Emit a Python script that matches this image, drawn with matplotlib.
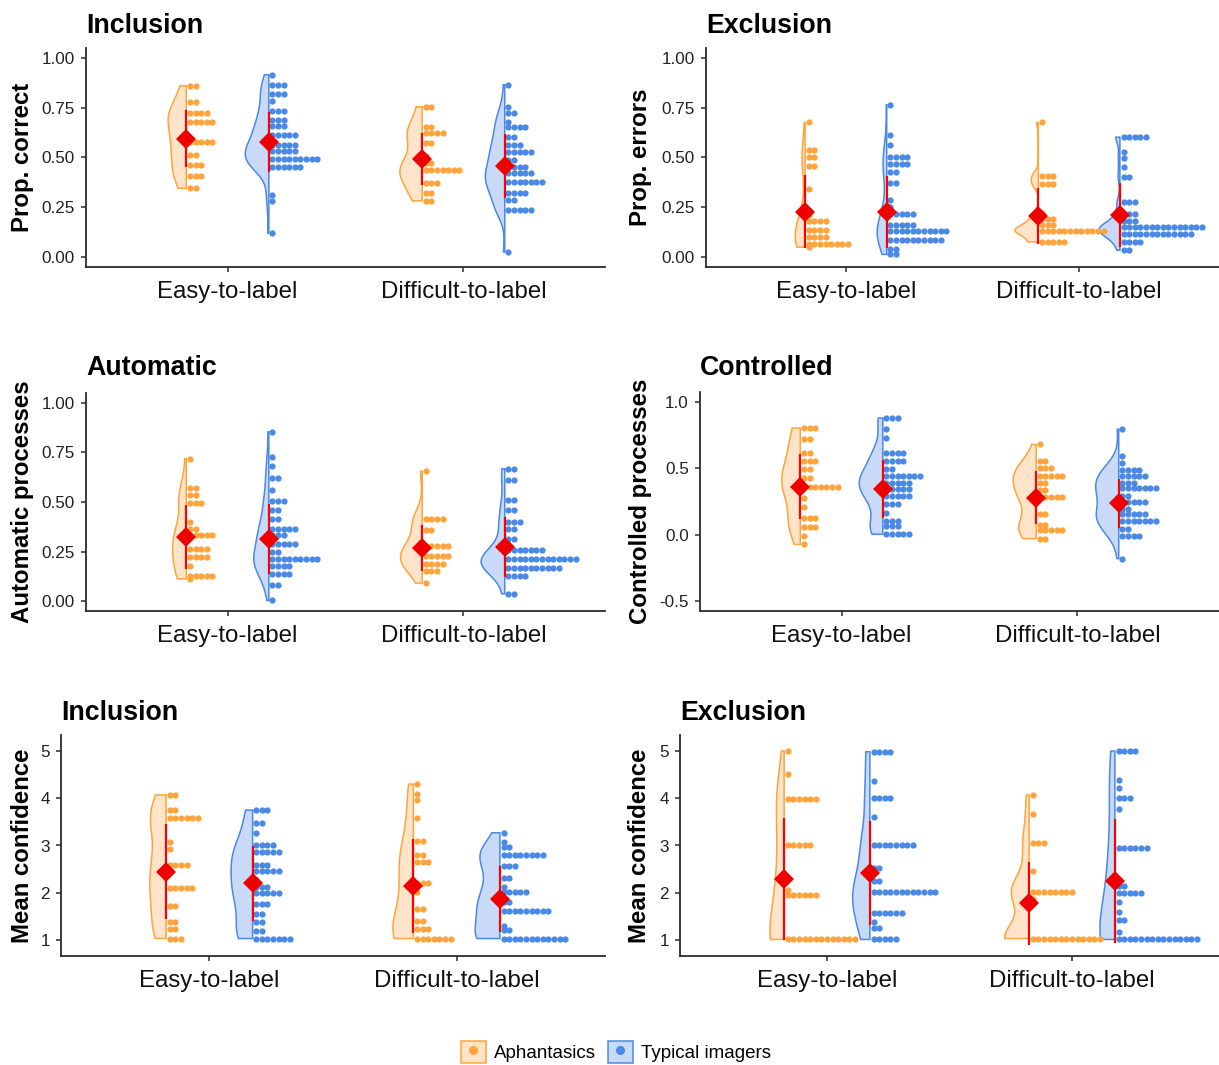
import numpy as np
import matplotlib
matplotlib.use("Agg")
import matplotlib.pyplot as plt
from matplotlib.patches import Polygon, Patch
from matplotlib.lines import Line2D

plt.rcParams['font.family'] = ['Liberation Sans', 'DejaVu Sans']

# ---------------- data ----------------
CATEGORIES = ['Easy-to-label', 'Difficult-to-label']
GROUPS = ['Aphantasics', 'Typical imagers']

# dot stacks: (value, number of dots)
# Panel 1: Inclusion - Prop. correct
INCL_ACC_APH_EASY = [(0.860, 2), (0.781, 2), (0.725, 4), (0.677, 5), (0.578, 5), (0.515, 2),
                     (0.460, 3), (0.409, 3), (0.345, 2)]
INCL_ACC_TYP_EASY = [(0.916, 1), (0.866, 3), (0.819, 3), (0.782, 1), (0.732, 3), (0.690, 3),
                     (0.656, 3), (0.615, 5), (0.564, 5), (0.534, 5), (0.494, 9), (0.452, 6),
                     (0.313, 1), (0.279, 1), (0.120, 1)]
INCL_ACC_APH_DIFF = [(0.755, 2), (0.655, 2), (0.625, 4), (0.575, 2), (0.510, 1), (0.471, 2),
                     (0.437, 7), (0.370, 3), (0.323, 2), (0.282, 2)]
INCL_ACC_TYP_DIFF = [(0.866, 1), (0.756, 1), (0.726, 2), (0.680, 1), (0.655, 4), (0.605, 2),
                     (0.563, 3), (0.529, 5), (0.487, 2), (0.454, 4), (0.420, 5), (0.375, 7),
                     (0.324, 4), (0.286, 2), (0.235, 5), (0.025, 1)]
INCL_ACC_MEAN = [0.595, 0.577, 0.491, 0.459]
INCL_ACC_SD = [0.145, 0.151, 0.130, 0.160]

# Panel 2: Exclusion - Prop. errors
EXCL_ERR_APH_EASY = [(0.676, 1), (0.538, 2), (0.504, 2), (0.459, 2), (0.340, 1), (0.210, 1),
                     (0.182, 4), (0.138, 4), (0.100, 4), (0.067, 8), (0.050, 1)]
EXCL_ERR_TYP_EASY = [(0.765, 1), (0.613, 1), (0.563, 1), (0.504, 4), (0.467, 4), (0.429, 2),
                     (0.373, 2), (0.286, 1), (0.250, 1), (0.218, 5), (0.160, 5), (0.131, 11),
                     (0.087, 10), (0.042, 2), (0.013, 2)]
EXCL_ERR_APH_DIFF = [(0.676, 1), (0.408, 3), (0.366, 3), (0.220, 1), (0.193, 3), (0.160, 3),
                     (0.131, 12), (0.076, 5)]
EXCL_ERR_TYP_DIFF = [(0.602, 5), (0.529, 1), (0.496, 1), (0.454, 1), (0.400, 2), (0.277, 3),
                     (0.218, 3), (0.182, 3), (0.151, 15), (0.118, 13), (0.076, 4), (0.034, 2)]
EXCL_ERR_MEAN = [0.227, 0.227, 0.205, 0.210]
EXCL_ERR_SD = [0.183, 0.180, 0.140, 0.160]

# Panel 3: Automatic processes
AUTO_APH_EASY = [(0.719, 1), (0.572, 2), (0.534, 2), (0.497, 3), (0.400, 1), (0.365, 2),
                 (0.332, 5), (0.261, 4), (0.222, 4), (0.175, 1), (0.126, 5), (0.112, 1)]
AUTO_TYP_EASY = [(0.854, 1), (0.727, 1), (0.680, 1), (0.621, 2), (0.562, 1), (0.505, 3),
                 (0.461, 2), (0.416, 2), (0.365, 5), (0.332, 3), (0.290, 5), (0.247, 2),
                 (0.210, 9), (0.175, 4), (0.135, 4), (0.079, 2), (0.003, 1)]
AUTO_APH_DIFF = [(0.655, 1), (0.416, 4), (0.357, 2), (0.276, 5), (0.227, 5), (0.189, 4),
                 (0.150, 3), (0.091, 1)]
AUTO_TYP_DIFF = [(0.668, 2), (0.609, 2), (0.508, 2), (0.458, 2), (0.399, 3), (0.365, 2),
                 (0.315, 2), (0.256, 7), (0.210, 13), (0.168, 10), (0.125, 4), (0.037, 2)]
AUTO_MEAN = [0.323, 0.315, 0.269, 0.273]
AUTO_SD = [0.160, 0.177, 0.116, 0.151]

# Panel 4: Controlled processes
CTRL_APH_EASY = [(0.803, 3), (0.720, 2), (0.614, 2), (0.556, 3), (0.495, 2), (0.430, 2),
                 (0.361, 7), (0.273, 1), (0.210, 1), (0.129, 3), (0.058, 3), (-0.010, 1),
                 (-0.073, 1)]
CTRL_TYP_EASY = [(0.879, 3), (0.795, 1), (0.727, 1), (0.619, 4), (0.556, 4), (0.492, 2),
                 (0.442, 7), (0.391, 5), (0.343, 5), (0.293, 5), (0.230, 3), (0.164, 1),
                 (0.104, 3), (0.063, 3), (0.003, 5)]
CTRL_APH_DIFF = [(0.680, 1), (0.555, 2), (0.500, 3), (0.444, 5), (0.386, 2), (0.336, 2),
                 (0.285, 5), (0.154, 2), (0.076, 2), (0.033, 5), (-0.030, 2)]
CTRL_TYP_DIFF = [(0.795, 1), (0.593, 1), (0.537, 1), (0.487, 4), (0.444, 5), (0.386, 3),
                 (0.348, 7), (0.290, 2), (0.247, 5), (0.197, 2), (0.154, 5), (0.103, 7),
                 (0.045, 2), (-0.013, 4), (-0.180, 1)]
CTRL_MEAN = [0.361, 0.343, 0.280, 0.235]
CTRL_SD = [0.245, 0.220, 0.200, 0.187]

# Panel 5: Inclusion - Mean confidence
INCL_CONF_APH_EASY = [(4.07, 2), (3.75, 2), (3.575, 6), (3.08, 1), (2.92, 1), (2.59, 4),
                      (2.45, 1), (2.09, 5), (1.72, 2), (1.37, 2), (1.23, 2), (1.03, 3)]
INCL_CONF_TYP_EASY = [(3.75, 3), (3.48, 2), (3.27, 1), (3.01, 4), (2.855, 5), (2.59, 3),
                      (2.45, 5), (2.27, 1), (2.13, 3), (1.99, 5), (1.755, 3), (1.56, 2),
                      (1.37, 2), (1.20, 2), (1.03, 7)]
INCL_CONF_APH_DIFF = [(4.30, 1), (4.10, 1), (3.96, 1), (3.575, 1), (3.10, 2), (2.80, 2),
                      (2.66, 3), (2.21, 3), (2.02, 1), (1.65, 2), (1.40, 2), (1.226, 3),
                      (1.03, 7)]
INCL_CONF_TYP_DIFF = [(3.27, 1), (3.08, 1), (2.96, 2), (2.80, 8), (2.57, 3), (2.305, 2),
                      (2.13, 1), (2.02, 5), (1.81, 2), (1.61, 9), (1.30, 1), (1.21, 2),
                      (1.03, 12)]
INCL_CONF_MEAN = [2.446, 2.200, 2.140, 1.870]
INCL_CONF_SD = [1.00, 0.79, 1.00, 0.70]

# Panel 6: Exclusion - Mean confidence
EXCL_CONF_APH_EASY = [(5.00, 1), (4.51, 1), (3.985, 6), (3.01, 5), (2.06, 1), (1.95, 6),
                      (1.01, 13)]
EXCL_CONF_TYP_EASY = [(4.985, 4), (4.37, 1), (4.01, 4), (3.61, 1), (3.01, 8), (2.52, 2),
                      (2.25, 2), (2.02, 12), (1.58, 6), (1.39, 1), (1.25, 2), (1.01, 5)]
EXCL_CONF_APH_DIFF = [(4.07, 1), (3.66, 1), (3.045, 3), (2.45, 1), (2.02, 8), (1.86, 1),
                      (1.03, 13)]
EXCL_CONF_TYP_DIFF = [(5.00, 4), (4.385, 1), (4.22, 1), (4.01, 3), (3.77, 1), (2.94, 6),
                      (2.14, 2), (1.99, 5), (1.81, 1), (1.60, 1), (1.42, 2), (1.16, 1),
                      (1.01, 15)]
EXCL_CONF_MEAN = [2.29, 2.425, 1.78, 2.25]
EXCL_CONF_SD = [1.30, 1.10, 0.88, 1.32]

# ---------------- styling / layout ----------------
ORANGE, ORANGE_FILL = '#FFA43C', '#FFE4CA'
BLUE, BLUE_FILL = '#4A89E6', '#C9D9F8'
COLORS = [(ORANGE, ORANGE_FILL), (BLUE, BLUE_FILL)]
W, H, DPI = 1219, 1065, 100
DODGE = 0.175
VIOLIN_HALF = 0.10
DOT_SP_PX = 5.6

panels = [
    dict(box=(86, 605, 48, 267), ylim=(-0.05, 1.05), yticks=[0, 0.25, 0.5, 0.75, 1.0], fmt='{:.2f}',
         title='Inclusion', tbase=33, ylabel='Prop. correct', ylx=23,
         stacks=[INCL_ACC_APH_EASY, INCL_ACC_TYP_EASY, INCL_ACC_APH_DIFF, INCL_ACC_TYP_DIFF],
         mean=INCL_ACC_MEAN, sd=INCL_ACC_SD),
    dict(box=(706, 1219, 48, 267), ylim=(-0.05, 1.05), yticks=[0, 0.25, 0.5, 0.75, 1.0], fmt='{:.2f}',
         title='Exclusion', tbase=33, ylabel='Prop. errors', ylx=640,
         stacks=[EXCL_ERR_APH_EASY, EXCL_ERR_TYP_EASY, EXCL_ERR_APH_DIFF, EXCL_ERR_TYP_DIFF],
         mean=EXCL_ERR_MEAN, sd=EXCL_ERR_SD),
    dict(box=(86, 605, 393, 611), ylim=(-0.05, 1.05), yticks=[0, 0.25, 0.5, 0.75, 1.0], fmt='{:.2f}',
         title='Automatic', tbase=375, ylabel='Automatic processes', ylx=23,
         stacks=[AUTO_APH_EASY, AUTO_TYP_EASY, AUTO_APH_DIFF, AUTO_TYP_DIFF],
         mean=AUTO_MEAN, sd=AUTO_SD),
    dict(box=(700, 1219, 392, 611), ylim=(-0.575, 1.075), yticks=[-0.5, 0.0, 0.5, 1.0], fmt='{:.1f}',
         title='Controlled', tbase=375, ylabel='Controlled processes', ylx=640,
         stacks=[CTRL_APH_EASY, CTRL_TYP_EASY, CTRL_APH_DIFF, CTRL_TYP_DIFF],
         mean=CTRL_MEAN, sd=CTRL_SD),
    dict(box=(61, 605, 735, 956), ylim=(0.66, 5.34), yticks=[1, 2, 3, 4, 5], fmt='{:.0f}',
         title='Inclusion', tbase=720, ylabel='Mean confidence', ylx=23,
         stacks=[INCL_CONF_APH_EASY, INCL_CONF_TYP_EASY, INCL_CONF_APH_DIFF, INCL_CONF_TYP_DIFF],
         mean=INCL_CONF_MEAN, sd=INCL_CONF_SD),
    dict(box=(680, 1219, 735, 956), ylim=(0.66, 5.34), yticks=[1, 2, 3, 4, 5], fmt='{:.0f}',
         title='Exclusion', tbase=720, ylabel='Mean confidence', ylx=640,
         stacks=[EXCL_CONF_APH_EASY, EXCL_CONF_TYP_EASY, EXCL_CONF_APH_DIFF, EXCL_CONF_TYP_DIFF],
         mean=EXCL_CONF_MEAN, sd=EXCL_CONF_SD),
]


def kde(vals, grid):
    v = np.asarray(vals, dtype=float)
    n = len(v)
    sd = v.std(ddof=1)
    q75, q25 = np.percentile(v, [75, 25])
    iqr = (q75 - q25) / 1.34
    lo = min(sd, iqr) if iqr > 0 else sd
    bw = 0.9 * lo * n ** (-0.2)
    z = (grid[:, None] - v[None, :]) / bw
    return np.exp(-0.5 * z ** 2).sum(axis=1) / (n * bw * np.sqrt(2 * np.pi))


fig = plt.figure(figsize=(W / DPI, H / DPI), dpi=DPI)
AXC = '#2b2b2b'

for p in panels:
    L, R, T, B = p['box']
    ax = fig.add_axes([L / W, 1 - B / H, (R - L) / W, (B - T) / H])
    ax.set_xlim(0.4, 2.6)
    ax.set_ylim(*p['ylim'])
    px_per_x = (R - L) / 2.2
    sp = DOT_SP_PX / px_per_x

    grids, dens = [], []
    for st in p['stacks']:
        ys = np.array([s[0] for s in st])
        ns = np.array([s[1] for s in st])
        v = np.repeat(ys, ns)
        g = np.linspace(v.min(), v.max(), 512)
        grids.append(g)
        dens.append(kde(v, g))
    maxd = max(d.max() for d in dens)

    for i, st in enumerate(p['stacks']):
        cat, grp = i // 2, i % 2
        col, fill = COLORS[grp]
        xc = cat + 1 + (DODGE if grp else -DODGE)
        g, d = grids[i], dens[i]
        half = d / maxd * VIOLIN_HALF
        xs_poly = np.r_[xc, xc - half, xc]
        ys_poly = np.r_[g[0], g, g[-1]]
        ax.add_patch(Polygon(np.column_stack([xs_poly, ys_poly]), closed=True,
                             fc=fill, ec=col, lw=1.1, zorder=2))
        dx, dy = [], []
        for y, n in st:
            for k in range(n):
                dx.append(xc + sp * (0.65 + k))
                dy.append(y)
        ax.plot(dx, dy, 'o', ls='none', ms=4.5, color=col, mew=0, zorder=3)
        m, s = p['mean'][i], p['sd'][i]
        ax.plot([xc, xc], [m - s, m + s], color='#FF0000', lw=1.6, zorder=4,
                solid_capstyle='butt')
        ax.plot([xc], [m], 'D', ms=10.2, color='#EE0000', mew=0, zorder=5)

    for sp_name in ['top', 'right']:
        ax.spines[sp_name].set_visible(False)
    for sp_name in ['left', 'bottom']:
        ax.spines[sp_name].set_color(AXC)
        ax.spines[sp_name].set_linewidth(1.3)
    ax.set_xticks([1, 2])
    ax.set_xticklabels(CATEGORIES, fontsize=17.3, color='#111111')
    ax.set_yticks(p['yticks'])
    ax.set_yticklabels([p['fmt'].format(t) for t in p['yticks']], fontsize=12.3, color='#222222')
    ax.tick_params(axis='both', direction='out', length=3.8, width=1.1, color=AXC)
    ax.tick_params(axis='x', pad=6.0)
    ax.tick_params(axis='y', pad=4.2)

    fig.text(L / W, 1 - p['tbase'] / H, p['title'], fontsize=19.3, fontweight='bold',
             ha='left', va='baseline', color='#000000')
    fig.text(p['ylx'] / W, 1 - ((T + B) / 2) / H, p['ylabel'], rotation=90, fontsize=17.3,
             fontweight='bold', ha='center', va='center', color='#000000')

handles = [(Patch(facecolor=ORANGE_FILL, edgecolor=ORANGE, lw=1.1),
            Line2D([], [], marker='o', ls='none', color=ORANGE, ms=6.5, mew=0)),
           (Patch(facecolor=BLUE_FILL, edgecolor=BLUE, lw=1.1),
            Line2D([], [], marker='o', ls='none', color=BLUE, ms=6.5, mew=0))]
fig.legend(handles, GROUPS, loc='center', bbox_to_anchor=(616 / W, 1 - 1052 / H), ncol=2,
           frameon=False, fontsize=13.5, handlelength=1.35, handleheight=1.35,
           handletextpad=0.45, columnspacing=0.6, borderpad=0.1)

fig.savefig('out.png', dpi=DPI)
